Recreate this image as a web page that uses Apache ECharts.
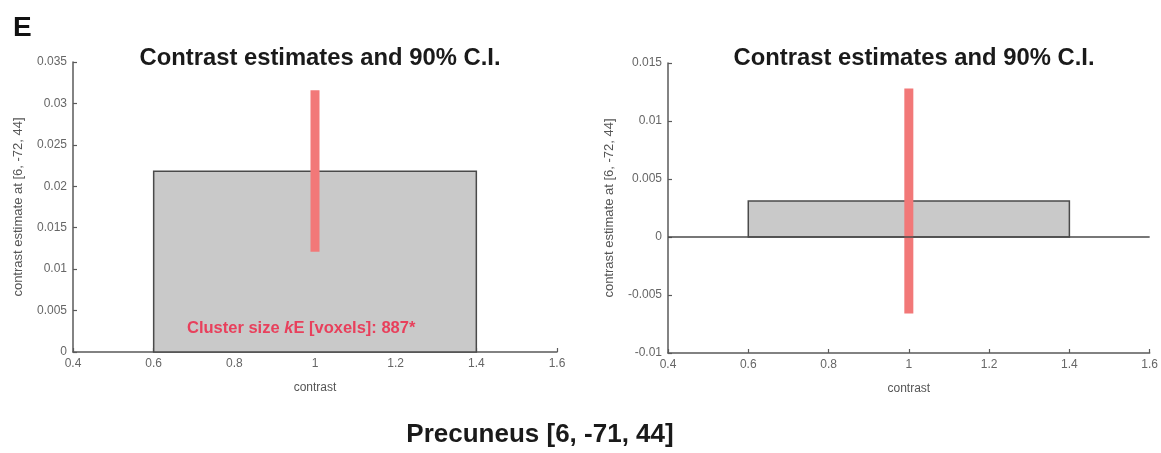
<!DOCTYPE html>
<html>
<head>
<meta charset="utf-8">
<script src="https://cdn.jsdelivr.net/npm/echarts@6/dist/echarts.min.js"></script>
<style>html,body{margin:0;padding:0;background:#fff}#c{width:1161px;height:453px}</style>
</head>
<body>
<div id="c"></div>
<script>
// ---- data ----
const contrastPos = [1];
const leftEstimate = [0.0218];
const leftCI = [[0.0121, 0.0316]];
const rightEstimate = [0.0031];
const rightCI = [[-0.0066, 0.0128]];
const xTicks = [0.4, 0.6, 0.8, 1, 1.2, 1.4, 1.6];
const leftYTicks = [0, 0.005, 0.01, 0.015, 0.02, 0.025, 0.03, 0.035];
const rightYTicks = [-0.01, -0.005, 0, 0.005, 0.01, 0.015];
const titleText = 'Contrast estimates and 90% C.I.';
const yName = 'contrast estimate at [6, -72, 44]';
const xName = 'contrast';

const FONT = '"Liberation Sans", Arial, sans-serif';
const BAR_HALF = 0.4;

function barData(est) { return contrastPos.map((x, i) => [x, est[i]]); }
function ciData(ci) { return contrastPos.map((x, i) => [x, ci[i][0], ci[i][1]]); }

function renderBar(params, api) {
  const x = api.value(0), v = api.value(1);
  const p0 = api.coord([x - BAR_HALF, v]);
  const p1 = api.coord([x + BAR_HALF, 0]);
  return {
    type: 'rect',
    shape: { x: p0[0], y: Math.min(p0[1], p1[1]), width: p1[0] - p0[0], height: Math.abs(p1[1] - p0[1]) },
    style: { fill: '#c9c9c9', stroke: '#4a4a4a', lineWidth: 1.5 }
  };
}
function renderCI(params, api) {
  const x = api.value(0);
  const lo = api.coord([x, api.value(1)]);
  const hi = api.coord([x, api.value(2)]);
  const w = 9;
  return {
    type: 'rect',
    shape: { x: lo[0] - w / 2, y: hi[1], width: w, height: lo[1] - hi[1] },
    style: { fill: '#f27878' }
  };
}

function xAxis(gi) {
  return {
    type: 'value', gridIndex: gi, min: 0.4, max: 1.6, interval: 0.2,
    name: xName, nameLocation: 'middle', nameGap: 30,
    nameTextStyle: { color: '#555', fontSize: 12, fontFamily: FONT },
    axisLine: { show: true, onZero: false, lineStyle: { color: '#5a5a5a', width: 1.5 } },
    axisTick: { show: true, inside: true, length: 4, lineStyle: { color: '#5a5a5a', width: 1.2 } },
    axisLabel: { color: '#666', fontSize: 12, fontFamily: FONT, margin: 6 },
    splitLine: { show: false }
  };
}
function yAxis(gi, ticks, gap) {
  return {
    type: 'value', gridIndex: gi, min: ticks[0], max: ticks[ticks.length - 1], interval: 0.005,
    name: yName, nameLocation: 'middle', nameGap: gap,
    nameTextStyle: { color: '#555', fontSize: 13, fontFamily: FONT },
    axisLine: { show: true, onZero: false, lineStyle: { color: '#5a5a5a', width: 1.5 } },
    axisTick: { show: true, inside: true, length: 4, lineStyle: { color: '#5a5a5a', width: 1.2 } },
    axisLabel: { color: '#666', fontSize: 12, fontFamily: FONT, margin: 6 },
    splitLine: { show: false }
  };
}

const chart = echarts.init(document.getElementById('c'), null, { renderer: 'canvas' });
chart.setOption({
  backgroundColor: '#fff',
  animation: false,
  title: [
    { text: titleText, left: 315, top: 41, textAlign: 'center',
      textStyle: { fontSize: 23.8, fontWeight: 'bold', color: '#1a1a1a', fontFamily: FONT } },
    { text: titleText, left: 909, top: 41, textAlign: 'center',
      textStyle: { fontSize: 23.8, fontWeight: 'bold', color: '#1a1a1a', fontFamily: FONT } },
    { text: 'E', left: 8, top: 9,
      textStyle: { fontSize: 28, fontWeight: 'bold', color: '#111', fontFamily: FONT } },
    { text: 'Precuneus [6, -71, 44]', left: 535, top: 417, textAlign: 'center',
      textStyle: { fontSize: 26, fontWeight: 'bold', color: '#1a1a1a', fontFamily: FONT } }
  ],
  grid: [
    { left: 73, right: 1161 - 557, top: 62, bottom: 453 - 352 },
    { left: 668, right: 1161 - 1152, top: 63, bottom: 453 - 353 }
  ],
  xAxis: [xAxis(0), xAxis(1)],
  yAxis: [yAxis(0, leftYTicks, 48), yAxis(1, rightYTicks, 52)],
  series: [
    { type: 'custom', xAxisIndex: 0, yAxisIndex: 0, renderItem: renderBar, data: barData(leftEstimate), z: 2 },
    { type: 'custom', xAxisIndex: 0, yAxisIndex: 0, renderItem: renderCI, data: ciData(leftCI), z: 3 },
    { type: 'custom', xAxisIndex: 1, yAxisIndex: 1, renderItem: renderBar, data: barData(rightEstimate), z: 2,
      markLine: { silent: true, symbol: 'none', label: { show: false },
        lineStyle: { color: '#4a4a4a', width: 1.5, type: 'solid' }, data: [{ yAxis: 0 }] } },
    { type: 'custom', xAxisIndex: 1, yAxisIndex: 1, renderItem: renderCI, data: ciData(rightCI), z: 3 }
  ],
  graphic: [
    { type: 'text', left: 187, top: 320, z: 10,
      style: { text: '{a|Cluster size }{b|k}{a|E [voxels]: 887*}',
        rich: {
          a: { fontSize: 16.5, fontWeight: 'bold', fill: '#e8405c', fontFamily: FONT },
          b: { fontSize: 16.5, fontWeight: 'bold', fontStyle: 'italic', fill: '#e8405c', fontFamily: FONT }
        } } }
  ]
});
</script>
</body>
</html>
